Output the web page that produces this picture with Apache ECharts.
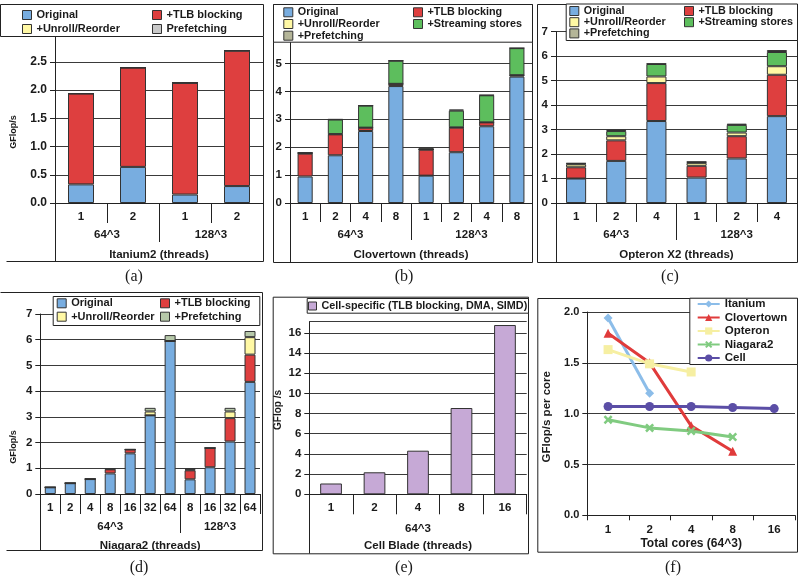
<!DOCTYPE html>
<html><head><meta charset="utf-8">
<script src="https://cdn.jsdelivr.net/npm/echarts@6/dist/echarts.min.js"></script>
<style>html,body{margin:0;padding:0;background:#fff}#c{width:800px;height:585px}</style>
</head><body><div id="c"></div>
<script>
// ---------------- DATA ----------------
// (a) Itanium2
const aCats = ['1','2','1','2'];
const aGroups = ['64^3','128^3'];
const aGroupSizes = [2,2];
const aOriginal = [0.33,0.64,0.15,0.30];
const aTLB      = [1.61,1.76,1.98,2.40];
const aUnroll   = [0,0,0,0];
const aPrefetch = [0,0,0,0];
// (b) Clovertown
const bCats = ['1','2','4','8','1','2','4','8'];
const bGroups = ['64^3','128^3'];
const bGroupSizes = [4,4];
const bOriginal  = [0.95,1.71,2.58,4.19,0.98,1.82,2.75,4.53];
const bTLB       = [0.82,0.75,0.12,0.08,0.93,0.88,0.14,0.05];
const bUnroll    = [0.02,0.01,0,0,0.01,0.01,0,0];
const bStreaming = [0,0.52,0.79,0.83,0,0.60,0.97,0.97];
const bPrefetch  = [0.02,0.01,0,0,0.06,0.04,0.01,0];
// (c) Opteron X2
const cCats = ['1','2','4','1','2','4'];
const cGroups = ['64^3','128^3'];
const cGroupSizes = [3,3];
const cOriginal  = [1.00,1.72,3.35,1.04,1.82,3.55];
const cTLB       = [0.46,0.84,1.55,0.48,0.91,1.69];
const cUnroll    = [0.12,0.17,0.27,0.12,0.15,0.35];
const cStreaming = [0.03,0.21,0.51,0.03,0.31,0.58];
const cPrefetch  = [0.02,0.05,0.02,0.02,0.05,0.08];
// (d) Niagara2
const dCats = ['1','2','4','8','16','32','64','8','16','32','64'];
const dGroups = ['64^3','128^3'];
const dGroupSizes = [7,4];
const dOriginal = [0.26,0.42,0.58,0.80,1.58,3.06,5.95,0.57,1.04,2.04,4.36];
const dTLB      = [0,0,0,0.16,0.15,0,0,0.35,0.75,0.91,1.06];
const dUnroll   = [0,0,0,0.02,0,0.15,0,0.03,0,0.26,0.68];
const dPrefetch = [0,0,0.02,0.01,0.01,0.14,0.23,0.04,0,0.14,0.24];
// (e) Cell Blade
const eCats = ['1','2','4','8','16'];
const eGroups = ['64^3'];
const eGroupSizes = [5];
const eCell = [1.07,2.18,4.32,8.55,16.77];
// (f) per-core scaling
const fCats = ['1','2','4','8','16'];
const fItanium    = [1.94,1.20];
const fClovertown = [1.79,1.50,0.88,0.63];
const fOpteron    = [1.63,1.49,1.41];
const fNiagara2   = [0.94,0.86,0.83,0.77];
const fCell       = [1.07,1.07,1.07,1.06,1.05];

// ---------------- STYLE ----------------
const F = '"Liberation Sans", Arial, sans-serif';
const INK = '#1a1a1a';
const AX = '#222';
const COL = {
  orig:'#78ADE0', tlb:'#DE3F3F', unroll:'#FFF8A4', stream:'#5DBE5D',
  preA:'#C9C9C9', preBC:'#B4B598', preD:'#B6C8A9', cell:'#C6A9D6'
};

const grids=[], xAxes=[], yAxes=[], series=[], legends=[], graphics=[];

function addBarPanel(p){
  const gi = grids.length;
  grids.push({left:p.left, top:p.top, width:p.width, height:p.height, containLabel:false, outerBoundsMode:'none'});
  const xi = xAxes.length;
  xAxes.push({
    type:'category', gridIndex:gi, position:'bottom', data:p.cats, boundaryGap:true,
    axisLine:{lineStyle:{color:AX, width:1}},
    axisTick:{show:true, interval:0, length:p.tickLen, lineStyle:{color:AX}},
    axisLabel:{interval:0, margin:p.catMargin, color:INK, fontFamily:F, fontWeight:'bold', fontSize:11.5}
  });
  const bounds=[], centers=[]; let acc=0;
  p.groupSizes.forEach(s=>{centers.push(acc+s/2); acc+=s; bounds.push(acc);});
  bounds.pop();
  xAxes.push({
    type:'value', gridIndex:gi, position:'bottom', min:0, max:p.cats.length,
    axisLine:{show:false}, splitLine:{show:false},
    axisTick:{show:bounds.length>0, customValues:bounds, length:p.groupTickLen, lineStyle:{color:AX}},
    axisLabel:{customValues:centers, margin:p.groupMargin, color:INK, fontFamily:F, fontWeight:'bold', fontSize:11.5,
      formatter:(v)=>{const k=centers.findIndex(c=>Math.abs(c-v)<1e-6); return k>=0?p.groups[k]:'';}},
    name:p.title, nameLocation:'middle', nameGap:p.titleGap,
    nameTextStyle:{color:INK, fontFamily:F, fontWeight:'bold', fontSize:11.5}
  });
  const yi = yAxes.length;
  yAxes.push({
    type:'value', gridIndex:gi, min:0, max:p.max, interval:p.interval,
    axisLine:{show:true, lineStyle:{color:AX}},
    axisTick:{show:true, length:5, lineStyle:{color:AX}},
    axisLabel:{showMaxLabel:p.showMax, margin:8, color:INK, fontFamily:F, fontWeight:'bold', fontSize:p.yFont||11.5,
      formatter:p.fmt},
    splitLine:{show:true, lineStyle:{color:'#3a3a3a', width:1}}
  });
  p.series.forEach(s=>series.push({
    type:'bar', name:s.name, xAxisIndex:xi, yAxisIndex:yi, stack:'stack'+gi, data:s.data,
    barWidth:p.barWidth, itemStyle:{color:s.color, borderColor:'#333', borderWidth:1},
    emphasis:{disabled:true}, silent:true
  }));
}

const f1 = v=>v.toFixed(1);
const f0 = v=>String(v);

addBarPanel({left:55, top:36, width:208, height:167, max:2.96, interval:0.5, showMax:false, fmt:f1, yFont:12,
  cats:aCats, groups:aGroups, groupSizes:aGroupSizes, title:'Itanium2 (threads)',
  tickLen:20, groupTickLen:39, catMargin:8, groupMargin:26, titleGap:46, barWidth:'50%',
  series:[{name:'Original',data:aOriginal,color:COL.orig},{name:'+TLB blocking',data:aTLB,color:COL.tlb},
          {name:'+Unroll/Reorder',data:aUnroll,color:COL.unroll},{name:'Prefetching',data:aPrefetch,color:COL.preA}]});
addBarPanel({left:290, top:41.7, width:242, height:161.3, max:5.78, interval:1, showMax:false, fmt:f0,
  cats:bCats, groups:bGroups, groupSizes:bGroupSizes, title:'Clovertown (threads)',
  tickLen:19, groupTickLen:37, catMargin:8, groupMargin:26, titleGap:46, barWidth:'50%',
  series:[{name:'Original',data:bOriginal,color:COL.orig},{name:'+TLB blocking',data:bTLB,color:COL.tlb},
          {name:'+Unroll/Reorder',data:bUnroll,color:COL.unroll},{name:'+Streaming stores',data:bStreaming,color:COL.stream},
          {name:'+Prefetching',data:bPrefetch,color:COL.preBC}]});
addBarPanel({left:556, top:31.7, width:241, height:171.3, max:7, interval:1, showMax:true, fmt:f0,
  cats:cCats, groups:cGroups, groupSizes:cGroupSizes, title:'Opteron X2 (threads)',
  tickLen:19, groupTickLen:37, catMargin:8, groupMargin:26, titleGap:46, barWidth:'50%',
  series:[{name:'Original',data:cOriginal,color:COL.orig},{name:'+TLB blocking',data:cTLB,color:COL.tlb},
          {name:'+Unroll/Reorder',data:cUnroll,color:COL.unroll},{name:'+Streaming stores',data:cStreaming,color:COL.stream},
          {name:'+Prefetching',data:cPrefetch,color:COL.preBC}]});
addBarPanel({left:40.3, top:314, width:219.7, height:180, max:7, interval:1, showMax:true, fmt:f0,
  cats:dCats, groups:dGroups, groupSizes:dGroupSizes, title:'Niagara2 (threads)',
  tickLen:20, groupTickLen:39, catMargin:8, groupMargin:27, titleGap:46, barWidth:'55%',
  series:[{name:'Original',data:dOriginal,color:COL.orig},{name:'+TLB blocking',data:dTLB,color:COL.tlb},
          {name:'+Unroll/Reorder',data:dUnroll,color:COL.unroll},{name:'+Prefetching',data:dPrefetch,color:COL.preD}]});
addBarPanel({left:309.3, top:321.7, width:217.4, height:172.6, max:17.1, interval:2, showMax:false, fmt:f0,
  cats:eCats, groups:eGroups, groupSizes:eGroupSizes, title:'Cell Blade (threads)',
  tickLen:20, groupTickLen:39, catMargin:8, groupMargin:29, titleGap:46, barWidth:'50%',
  series:[{name:'Cell-specific (TLB blocking, DMA, SIMD)',data:eCell,color:COL.cell}]});

// (f) line panel
(function(){
  const gi = grids.length;
  grids.push({left:587.3, top:312, width:207.7, height:203.3, containLabel:false, outerBoundsMode:'none'});
  const xi = xAxes.length;
  xAxes.push({type:'category', gridIndex:gi, position:'bottom', data:fCats, boundaryGap:true,
    axisLine:{lineStyle:{color:AX}}, axisTick:{show:true, interval:0, length:5, lineStyle:{color:AX}},
    axisLabel:{interval:0, margin:9, color:INK, fontFamily:F, fontWeight:'bold', fontSize:11.5},
    name:'Total cores (64^3)', nameLocation:'middle', nameGap:22,
    nameTextStyle:{color:INK, fontFamily:F, fontWeight:'bold', fontSize:12}});
  const yi = yAxes.length;
  yAxes.push({type:'value', gridIndex:gi, min:0, max:2, interval:0.5,
    axisLine:{show:true, lineStyle:{color:AX}}, axisTick:{show:true, length:5, lineStyle:{color:AX}},
    axisLabel:{margin:8, color:INK, fontFamily:F, fontWeight:'bold', fontSize:11, formatter:f1},
    splitLine:{show:true, lineStyle:{color:'#3a3a3a', width:1}}});
  const X = 'path://M2,0L5,3L8,0L10,2L7,5L10,8L8,10L5,7L2,10L0,8L3,5L0,2Z';
  const L = [
    {name:'Itanium', data:fItanium, color:'#8CBDE9', symbol:'diamond', size:9},
    {name:'Clovertown', data:fClovertown, color:'#E03B3B', symbol:'triangle', size:9},
    {name:'Opteron', data:fOpteron, color:'#F6EFA2', symbol:'rect', size:9},
    {name:'Niagara2', data:fNiagara2, color:'#80CB80', symbol:X, size:9},
    {name:'Cell', data:fCell, color:'#5B4EA6', symbol:'circle', size:9}
  ];
  L.forEach(s=>series.push({type:'line', name:s.name, xAxisIndex:xi, yAxisIndex:yi, data:s.data,
    symbol:s.symbol, symbolSize:s.size, showSymbol:true,
    lineStyle:{color:s.color, width:3}, itemStyle:{color:s.color}, emphasis:{disabled:true}, silent:true}));
})();

// ---------------- LEGENDS ----------------
function leg(left, top, gap, items, fs, lh, iw, ih){
  legends.push({left:left, top:top, orient:'vertical', itemGap:gap, padding:0, selectedMode:false, z:10,
    itemWidth:iw||9, itemHeight:ih||9,
    data:items.map(it=>it.color?{name:it.name, icon:'rect', itemStyle:{color:it.color, borderColor:'#333', borderWidth:1}}:{name:it.name}),
    textStyle:{color:INK, fontFamily:F, fontWeight:'bold', fontSize:fs||11, lineHeight:lh||11}});
}
leg(22, 9.5, 3, [{name:'Original',color:COL.orig},{name:'+Unroll/Reorder',color:COL.unroll}]);
leg(152, 9.5, 3, [{name:'+TLB blocking',color:COL.tlb},{name:'Prefetching',color:COL.preA}]);
leg(283.3, 6.8, 0.7, [{name:'Original',color:COL.orig},{name:'+Unroll/Reorder',color:COL.unroll},{name:'+Prefetching',color:COL.preBC}], 10.8);
leg(413, 6.8, 0.7, [{name:'+TLB blocking',color:COL.tlb},{name:'+Streaming stores',color:COL.stream}], 10.8);
leg(569.3, 5.5, 0.2, [{name:'Original',color:COL.orig},{name:'+Unroll/Reorder',color:COL.unroll},{name:'+Prefetching',color:COL.preBC}], 10.8);
leg(684, 5.5, 0.2, [{name:'+TLB blocking',color:COL.tlb},{name:'+Streaming stores',color:COL.stream}], 10.8);
leg(56.7, 297.8, 2.4, [{name:'Original',color:COL.orig},{name:'+Unroll/Reorder',color:COL.unroll}]);
leg(160, 297.8, 2.4, [{name:'+TLB blocking',color:COL.tlb},{name:'+Prefetching',color:COL.preD}]);
leg(308, 300.5, 0, [{name:'Cell-specific (TLB blocking, DMA, SIMD)',color:COL.cell}], 10.8, 11, 8, 8);
leg(696.7, 298, 1.5, [{name:'Itanium'},{name:'Clovertown'},{name:'Opteron'},{name:'Niagara2'},{name:'Cell'}], 11.5, 12, 22, 9);

// ---------------- DECORATION ----------------
function rect(x,y,w,h,fill,z){graphics.push({type:'rect', z:z||5, silent:true, shape:{x:x+0.5,y:y+0.5,width:w,height:h}, style:{stroke:'#222', lineWidth:1, fill:fill||'none'}});}
function pl(pts,z){graphics.push({type:'polyline', z:z||5, silent:true, shape:{points:pts.map(p=>[p[0]+0.5,p[1]+0.5])}, style:{stroke:'#222', lineWidth:1, fill:'none'}});}
function txt(t,x,y,font,rot){graphics.push({type:'text', z:6, silent:true, x:x, y:y, rotation:rot||0, style:{text:t, x:0, y:0, font:font, fill:INK, align:'center', verticalAlign:'middle'}});}
// frames
pl([[263,36],[263,261],[6,261]]);
rect(273,4,259,258);
rect(537,4,260,258);
pl([[0,292],[262,292],[262,550],[6,550]]);
rect(272.7,296.7,255.3,256.6);
rect(537.3,298,259.7,253.7);
// y-axis extensions below plots
pl([[55,203],[55,261]]);
pl([[290,203],[290,262]]);
pl([[556,203],[556,262]]);
pl([[40,494],[40,550]]);
pl([[309,494],[309,553]]);
// legend boxes
rect(0,4,263,32,'#fff',5);
rect(273,4,259,37.7,'#fff',5);
rect(565.7,3.5,231.3,36.5,'#fff',5);
rect(52.7,296,206.6,29,'#fff',5);
rect(306.7,298,221.3,14.7,'#fff',5);
rect(689.3,297.7,107.7,66.3,'#fff',5);
// y titles
const YT = 'bold 9px "Liberation Sans", Arial, sans-serif';
txt('GFlop/s', 13.3, 132, YT, Math.PI/2);
txt('GFlop/s', 13.3, 447, YT, Math.PI/2);
txt('GFlop /s', 278.3, 410, 'bold 10px "Liberation Sans", Arial, sans-serif', Math.PI/2);
txt('GFlop/s per core', 546.7, 416.7, 'bold 11.5px "Liberation Sans", Arial, sans-serif', Math.PI/2);
// captions
const CF = '16px "Liberation Serif", "Times New Roman", serif';
txt('(a)',134,277,CF); txt('(b)',404,277,CF); txt('(c)',670,277,CF);
txt('(d)',139,568,CF); txt('(e)',404,568,CF); txt('(f)',673,568,CF);

const chart = echarts.init(document.getElementById('c'), null, {renderer:'canvas'});
chart.setOption({
  animation:false, backgroundColor:'#fff',
  grid:grids, xAxis:xAxes, yAxis:yAxes, series:series, legend:legends,
  graphic:{elements:graphics}
});
</script></body></html>
